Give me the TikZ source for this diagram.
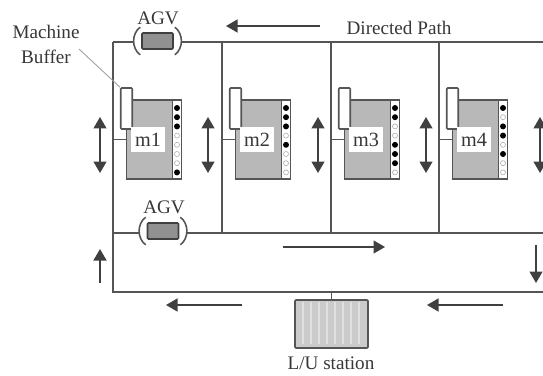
\documentclass[tikz,border=0pt]{standalone}
\usepackage{fontspec}
\setmainfont{Liberation Serif}
\usetikzlibrary{arrows.meta, calc}
\definecolor{railgray}{RGB}{85,85,85}
\definecolor{bodygray}{RGB}{184,184,184}
\definecolor{agvgray}{RGB}{145,145,145}
\definecolor{stationgray}{RGB}{203,203,203}
\definecolor{inkgray}{RGB}{55,55,55}
\definecolor{leadergray}{RGB}{160,160,160}

\begin{document}
\begin{tikzpicture}[
    x=0.02cm, y=-0.02cm,
    >={Triangle[length=2.3mm, width=2.6mm]},
    % Block styles
    rail/.style={
        draw=railgray, line width=0.9pt
    },
    bodyblock/.style={
        rectangle, draw=railgray, fill=bodygray,
        minimum width=1.1cm, minimum height=1.58cm,
        inner sep=0pt, line width=0.9pt
    },
    panelblock/.style={
        rectangle, draw=railgray, fill=white,
        minimum width=0.18cm, minimum height=1.58cm,
        inner sep=0pt, line width=0.9pt
    },
    bufferblock/.style={
        rectangle, draw=railgray, fill=white,
        minimum width=0.23cm, minimum height=0.82cm,
        inner sep=0pt, rounded corners=0.5pt, line width=0.9pt
    },
    namelabel/.style={
        rectangle, fill=white, text=inkgray, font=\fontsize{11.5}{13}\selectfont,
        minimum width=0.68cm, minimum height=0.52cm, inner sep=0pt
    },
    agvblock/.style={
        rectangle, draw=black!75, fill=agvgray,
        minimum width=0.62cm, minimum height=0.32cm,
        inner sep=0pt, rounded corners=0.5pt, line width=0.9pt
    },
    stationblock/.style={
        rectangle, draw=railgray, fill=stationgray,
        minimum width=1.46cm, minimum height=0.96cm,
        inner sep=0pt, rounded corners=0.5pt, line width=0.9pt
    },
    textlabel/.style={
        text=inkgray, font=\fontsize{10.9}{13}\selectfont, inner sep=0pt
    },
    dotfull/.style={
        circle, fill=black, minimum size=0.12cm, inner sep=0pt
    },
    dotopen/.style={
        circle, draw=black!35, fill=white, minimum size=0.1cm, inner sep=0pt, line width=0.3pt
    },
    flowarrow/.style={
        ->, line width=0.8pt, color=black!75
    },
    doublearrow/.style={
        <->, line width=0.8pt, color=black!75
    },
]
\useasboundingbox (0,0) rectangle (543,375);

% ===== PATH CORNERS =====
\coordinate (topleft) at (113,42);
\coordinate (topright) at (543,42);
\coordinate (midleft) at (113,233);
\coordinate (midright) at (543,233);
\coordinate (lowleft) at (113,292);
\coordinate (lowright) at (543,292);

% ===== AGVS =====
\node[agvblock] (agvtop) at (157.5,41) {};
\node[agvblock] (agvlow) at (163,231) {};
\node[textlabel] (agvtoplabel) at (158,18) {AGV};
\node[textlabel] (agvlowlabel) at (164,207) {AGV};

% ===== PATHS =====
\draw[rail] (topleft) -- ([xshift=-0.14cm]agvtop.west |- topleft);
\draw[rail] ([xshift=0.14cm]agvtop.east |- topleft) -- (topright);
\draw[rail] (midleft) -- ([xshift=-0.14cm]agvlow.west |- midleft);
\draw[rail] ([xshift=0.14cm]agvlow.east |- midleft) -- (midright);
\draw[rail] (topleft) -- (lowleft) -- (lowright);

% AGV brackets
\foreach \agv in {agvtop, agvlow} {
    \draw[rail] ([shift={(-1,-5)}]\agv.north west) to[bend right=55] ([shift={(-1,5)}]\agv.south west);
    \draw[rail] ([shift={(1,-5)}]\agv.north east) to[bend left=55] ([shift={(1,5)}]\agv.south east);
}

% ===== MACHINES =====
\foreach \n/\vx/\pat in {1/113/{1,1,1,0,0,0,0,1}, 2/222/{1,1,1,0,1,0,0,0}, 3/331/{1,1,0,0,1,1,1,0}, 4/439/{1,0,1,1,0,1,0,0}} {
    \coordinate (tap\n) at (\vx,139.5);
    \ifnum\n>1
        \draw[rail] (tap\n |- topleft) -- (tap\n |- midleft);
    \fi
    \node[bodyblock] (body\n) at (\vx+41,139.5) {};
    \node[panelblock] (panel\n) at (\vx+64,139.5) {};
    \node[bufferblock] (buffer\n) at (\vx+13.5,108.5) {};
    \node[namelabel] (name\n) at (\vx+35,139.5) {m\n};
    \draw[rail] (tap\n) -- (body\n.west);
    \foreach \d [count=\i from 0] in \pat {
        \ifnum\d=1
            \node[dotfull] at (\vx+64,108+9.2*\i) {};
        \else
            \node[dotopen] at (\vx+64,108+9.2*\i) {};
        \fi
    }
}

% ===== LOAD STATION =====
\node[stationblock] (station) at (331.5,324) {};
\foreach \sx in {303,311,319,327,335,343,351,359} {
    \draw[white!88!black, line width=1.3pt] (\sx,302) -- (\sx,344);
}
\node[textlabel] (stationlabel) at (331,363) {L/U station};
\draw[rail] (station.north) -- (station.north |- lowleft);

% ===== TEXT LABELS =====
\node[textlabel] (machinelabel) at (46,32) {Machine};
\node[textlabel] (bufferlabel) at (46,57) {Buffer};
\node[textlabel] (pathlabel) at (399,28) {Directed Path};
\coordinate (leaderstart) at (79,49);
\draw[leadergray, line width=0.5pt] (leaderstart) -- (buffer1.north west);

% ===== ARROWS =====
\foreach \ax/\name in {100/a, 208/b, 318/c, 426/d, 540/e} {
    \coordinate (dbl\name top) at (\ax,117);
    \coordinate (dbl\name low) at (\ax,173);
    \draw[doublearrow] (dbl\name top) -- (dbl\name low);
}
\foreach \name/\fx/\fy/\tx/\ty in {top/320/26/226/26, mid/283/247/385/247, right/536/245/536/283, up/100/283/100/249, lowa/242/305/166/305, lowb/503/305/427/305} {
    \coordinate (from\name) at (\fx,\fy);
    \coordinate (to\name) at (\tx,\ty);
    \draw[flowarrow] (from\name) -- (to\name);
}

\end{tikzpicture}
\end{document}
